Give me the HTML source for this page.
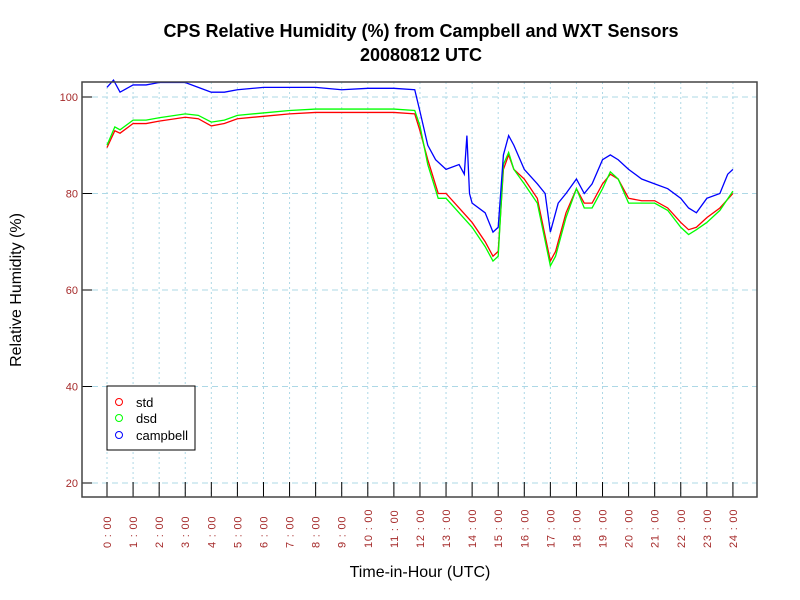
<!DOCTYPE html>
<html><head><meta charset="utf-8"><style>body{margin:0;background:#fff}svg{display:block}</style></head>
<body>
<svg id="c" width="800" height="600" xmlns="http://www.w3.org/2000/svg" font-family="Liberation Sans, sans-serif">
<rect width="800" height="600" fill="#fff"/>
<text x="421" y="37" text-anchor="middle" font-size="18" font-weight="bold">CPS Relative Humidity (%) from Campbell and WXT Sensors</text>
<text x="421" y="61" text-anchor="middle" font-size="18" font-weight="bold">20080812  UTC</text>
<text x="420" y="577" text-anchor="middle" font-size="16">Time-in-Hour (UTC)</text>
<text transform="translate(21,290) rotate(-90)" text-anchor="middle" font-size="16">Relative Humidity (%)</text>
<g id="grid"></g><g id="series"></g>
<rect x="82" y="82" width="675" height="415" fill="none" stroke="#444" stroke-width="1.5"/>
<g>
<rect x="107" y="386" width="88" height="64" fill="#fff" stroke="#000"/>
<circle cx="119" cy="402" r="3.5" fill="none" stroke="#f00"/><text x="136" y="407" font-size="13">std</text>
<circle cx="119" cy="418" r="3.5" fill="none" stroke="#0f0"/><text x="136" y="423" font-size="13">dsd</text>
<circle cx="119" cy="435" r="3.5" fill="none" stroke="#00f"/><text x="136" y="440" font-size="13">campbell</text>
</g>
</svg>
<script>
const yTicks=[20,40,60,80,100];
const xHours=[0,1,2,3,4,5,6,7,8,9,10,11,12,13,14,15,16,17,18,19,20,21,22,23,24];
const campT=[0,0.25,0.5,1,1.5,2,3,3.5,4,4.5,5,6,7,8,9,10,11,11.8,12,12.3,12.6,13,13.5,13.7,13.8,13.9,14,14.5,14.8,15,15.2,15.4,15.6,16,16.5,16.8,17,17.3,17.6,18,18.3,18.6,19,19.3,19.6,20,20.5,21,21.5,22,22.3,22.6,23,23.5,23.8,24];
const campV=[102,103.5,101,102.5,102.5,103,103,102,101,101,101.5,102,102,102,101.5,101.8,101.8,101.5,97,90,87,85,86,84,92,80,78,76,72,73,88,92,90,85,82,80,72,78,80,83,80,82,87,88,87,85,83,82,81,79,77,76,79,80,84,85];
const stdT=[0,0.3,0.5,1,1.5,2,3,3.5,4,4.5,5,6,7,8,9,10,11,11.8,12,12.3,12.7,13,13.5,14,14.5,14.8,15,15.2,15.4,15.6,16,16.5,17,17.2,17.6,18,18.3,18.6,19,19.3,19.6,20,20.5,21,21.5,22,22.3,22.6,23,23.5,24];
const stdV=[89.5,93,92.5,94.5,94.5,95,95.8,95.5,94,94.5,95.5,96,96.5,96.8,96.8,96.8,96.8,96.5,93,87,80,80,77,74,70,67,68,85,88,85,83,79,66,68,76,81,78,78,82,84,83,79,78.5,78.5,77,74,72.5,73,75,77,80];
const dsdV=[90,93.8,93.2,95.2,95.2,95.7,96.5,96.2,94.8,95.2,96.2,96.7,97.2,97.5,97.5,97.5,97.5,97.2,94,86,79,79,76,73,69,66,67,86,88.5,85,82,78,65,67,75,81,77,77,81,84.5,83,78,78,78,76.5,73,71.5,72.5,74,76.5,80.5];
const NS='http://www.w3.org/2000/svg';
const X=h=>107+h*26.08, Y=v=>483-(v-20)*4.825;
const grid=document.getElementById('grid'), ser=document.getElementById('series'), svg=document.getElementById('c');
function mk(t,a,p){const e=document.createElementNS(NS,t);for(const k in a)e.setAttribute(k,a[k]);p.appendChild(e);return e;}
yTicks.forEach(v=>{
 const g=mk('line',{x1:82,x2:757,y1:Y(v),y2:Y(v),stroke:'#add8e6','stroke-dasharray':'6,4'},grid);
 
 
 mk('line',{x1:82,x2:92,y1:Y(v),y2:Y(v),stroke:'#000'},grid);
 const t=mk('text',{x:78,y:Y(v)+4,'text-anchor':'end','font-size':11,fill:'#a52a2a'},grid);t.textContent=v;
 
 
});
xHours.forEach(h=>{
 const g=mk('line',{x1:X(h),x2:X(h),y1:82,y2:497,stroke:'#add8e6','stroke-dasharray':'2,3'},grid);
 
 
 mk('line',{x1:X(h),x2:X(h),y1:482,y2:497,stroke:'#000'},grid);
 const t=mk('text',{transform:`translate(${X(h)+4},548) rotate(-90)`,'font-size':11,fill:'#a52a2a','letter-spacing':'0.8'},grid);t.textContent=h+' : 00';
 
 
});
function line(ts,vs,col,name){
 const p=mk('polyline',{points:ts.map((t,i)=>X(t)+','+Y(vs[i])).join(' '),fill:'none',stroke:col,'stroke-width':1.3},ser);
 
 
}
line(stdT,stdV,'#f00','std-line');
line(stdT,dsdV,'#0f0','dsd-line');
line(campT,campV,'#00f','campbell-line');
</script>
</body></html>
